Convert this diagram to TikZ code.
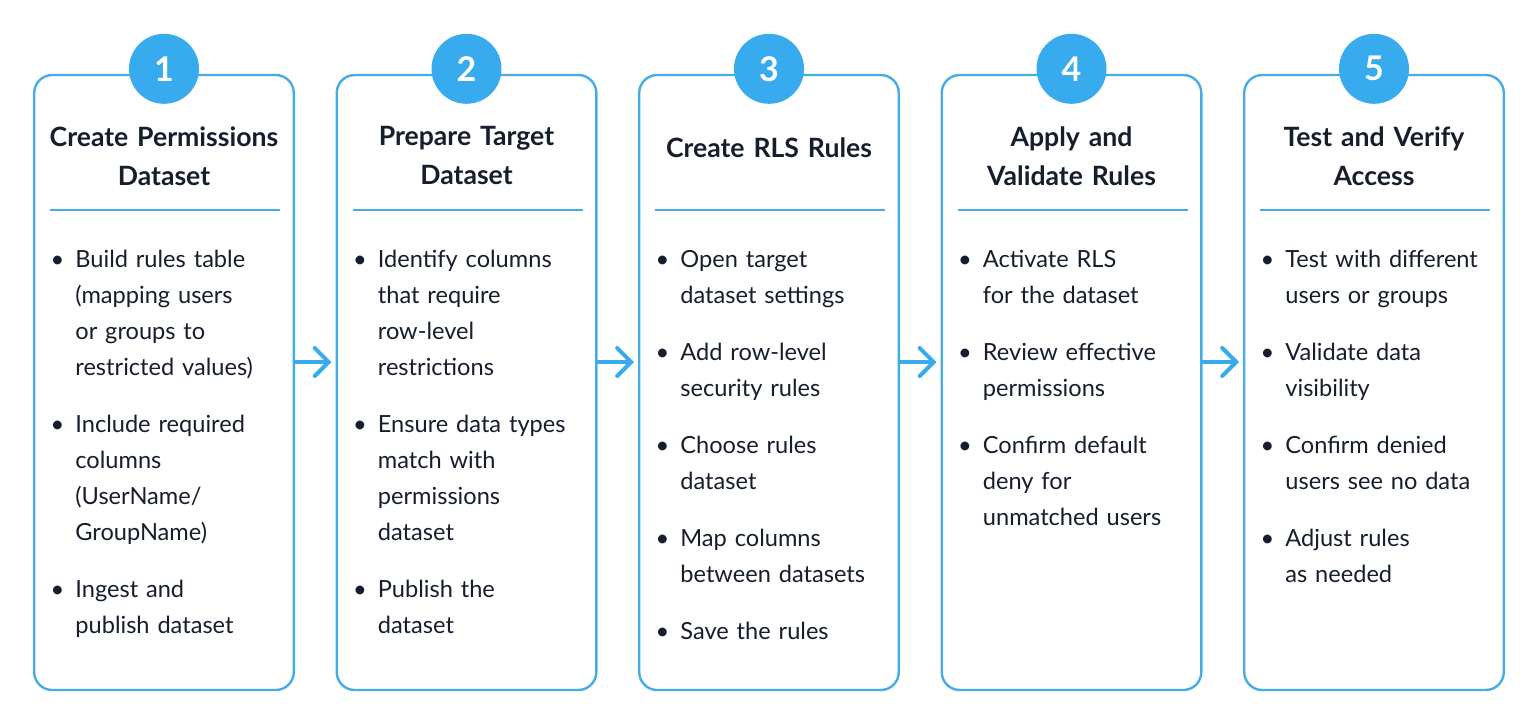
\documentclass[tikz,border=0pt]{standalone}
\usepackage{fontspec}
\setmainfont{Lato}
\usepackage{enumitem}
\usetikzlibrary{arrows.meta,positioning,calc}
\definecolor{stepblue}{RGB}{56,171,238}
\definecolor{cardline}{RGB}{72,172,228}
\definecolor{inknavy}{RGB}{22,30,46}
\setlist[itemize]{label=\textbullet,leftmargin=9.5pt,labelsep=5.5pt,topsep=0pt,partopsep=0pt,itemsep=10.5pt,parsep=0pt}

\begin{document}
\begin{tikzpicture}[x=0.5pt,y=-0.5pt,
  node distance=20.25pt,
  card/.style={rectangle, rounded corners=9pt, draw=cardline, line width=1.2pt, fill=white,
    minimum width=129.8pt, minimum height=307.5pt},
  numdot/.style={circle, fill=stepblue, minimum size=35pt, inner sep=0pt, text=white,
    font=\fontsize{17}{17}\selectfont\bfseries},
  ttl/.style={text width=125pt, align=center, text=inknavy, inner sep=0pt,
    font=\fontsize{13.3}{19.5}\selectfont\bfseries},
  blist/.style={text width=113pt, align=left, text=inknavy, inner sep=0pt, anchor=north west,
    font=\fontsize{11.8}{18}\selectfont},
  divider/.style={cardline, line width=1pt},
  arr/.style={-{Straight Barb[length=7pt,width=14pt,line cap=round]}, stepblue, line width=2pt,
    line cap=round, shorten >=2pt}]
\useasboundingbox (0,0) rectangle (1536,725);
\node[card] (c1) at (164,382.5) {};
\node[card, right=of c1] (c2) {};
\node[card, right=of c2] (c3) {};
\node[card, right=of c3] (c4) {};
\node[card, right=of c4] (c5) {};
\foreach \i in {1,...,5}
  \node[numdot] (n\i) at ([yshift=2.5pt]c\i.north) {\i};
% titles
\node[ttl] (t1) at ($(c1.north)+(0,82)$) {Create Permissions\\Dataset};
\node[ttl] (t2) at ($(c2.north)+(0,82)$) {Prepare Target\\Dataset};
\node[ttl] (t3) at ($(c3.north)+(0,74)$) {Create RLS Rules};
\node[ttl] (t4) at ($(c4.north)+(0,82)$) {Apply and\\Validate Rules};
\node[ttl] (t5) at ($(c5.north)+(0,82)$) {Test and Verify\\Access};
\foreach \i in {1,...,5}
  \draw[divider] ($(c\i.north west)+(17,136)$) -- ($(c\i.north east)+(-15,136)$);
% step lists
\node[blist] (l1) at ($(c1.north west)+(23,157)$) {\begin{itemize}
  \item Build rules table\\(mapping users\\or groups to\\restricted values)
  \item Include required\\columns\\(UserName/\\GroupName)
  \item Ingest and\\publish dataset
\end{itemize}};
\node[blist] (l2) at ($(c2.north west)+(23,157)$) {\begin{itemize}
  \item Identify columns\\that require\\row-level\\restrictions
  \item Ensure data types\\match with\\permissions\\dataset
  \item Publish the\\dataset
\end{itemize}};
\node[blist] (l3) at ($(c3.north west)+(23,157)$) {\begin{itemize}
  \item Open target\\dataset settings
  \item Add row-level\\security rules
  \item Choose rules\\dataset
  \item Map columns\\between datasets
  \item Save the rules
\end{itemize}};
\node[blist] (l4) at ($(c4.north west)+(23,157)$) {\begin{itemize}
  \item Activate RLS\\for the dataset
  \item Review effective\\permissions
  \item Confirm default\\deny for\\unmatched users
\end{itemize}};
\node[blist] (l5) at ($(c5.north west)+(23,157)$) {\begin{itemize}
  \item Test with different\\users or groups
  \item Validate data\\visibility
  \item Confirm denied\\users see no data
  \item Adjust rules\\as needed
\end{itemize}};
\foreach \a/\b in {c1/c2,c2/c3,c3/c4,c4/c5}
  \draw[arr] ([yshift=10.25pt]\a.east) -- ([yshift=10.25pt]\b.west);
\end{tikzpicture}
\end{document}
